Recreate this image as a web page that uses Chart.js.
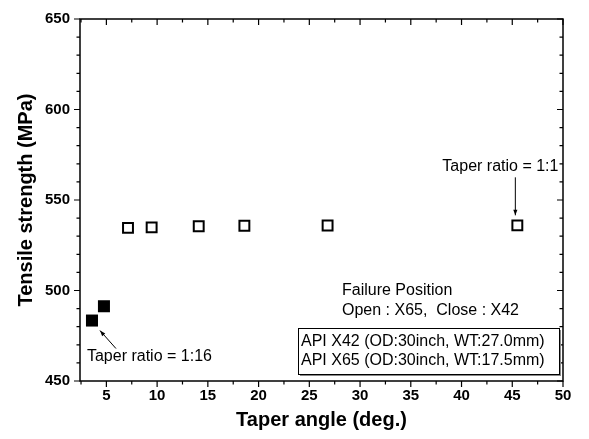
<!DOCTYPE html>
<html>
<head>
<meta charset="utf-8">
<script src="https://cdn.jsdelivr.net/npm/chart.js@4.4.1/dist/chart.umd.min.js"></script>
<style>
  html, body { margin: 0; padding: 0; background: #fff; }
  #wrap { width: 589px; height: 439px; }
</style>
</head>
<body>
<div id="wrap"><canvas id="chart" width="589" height="439"></canvas></div>
<script>
// taper angle (deg.) vs tensile strength (MPa)
const closeAngle = [3.58, 4.76]
const closeStrength = [483.4, 491.3]
const openAngle = [7.13, 9.46, 14.1, 18.6, 26.8, 45.5]
const openStrength = [534.6, 534.9, 535.5, 535.8, 535.9, 536.0]

const xTickLabels = [5, 10, 15, 20, 25, 30, 35, 40, 45, 50]
const yTickLabels = [450, 500, 550, 600, 650]

const FONT = 'Liberation Sans, Arial, sans-serif'

const toPoints = (xs, ys) => xs.map((x, i) => ({x, y: ys[i]}))

// frame, tick marks and the text notes
const notesPlugin = {
    id: 'notes',
    afterDraw(chart) {
        const {ctx, chartArea: a, scales: {x, y}} = chart
        ctx.save()
        ctx.strokeStyle = '#000'
        ctx.lineWidth = 1.5
        ctx.strokeRect(a.left, a.top, a.right - a.left, a.bottom - a.top)

        ctx.lineWidth = 1.2
        ctx.beginPath()
        x.ticks.forEach(t => {
            const px = x.getPixelForValue(t.value)
            const len = t.value % 5 === 0 ? 6 : 3.5
            ctx.moveTo(px, a.bottom); ctx.lineTo(px, a.bottom + len)
            ctx.moveTo(px, a.top); ctx.lineTo(px, a.top + len)
        })
        y.ticks.forEach(t => {
            const py = y.getPixelForValue(t.value)
            const len = t.value % 50 === 0 ? 6 : 3.5
            ctx.moveTo(a.left - len, py); ctx.lineTo(a.left, py)
            ctx.moveTo(a.right - len, py); ctx.lineTo(a.right, py)
        })
        ctx.stroke()

        ctx.fillStyle = '#000'
        ctx.font = '16px ' + FONT
        ctx.textBaseline = 'middle'
        ctx.textAlign = 'left'

        // 1:16 note under the first closed square
        const p16x = x.getPixelForValue(closeAngle[0])
        const p16y = y.getPixelForValue(closeStrength[0])
        ctx.fillText('Taper ratio = 1:16', p16x - 5, p16y + 36)
        arrow(ctx, p16x + 24, p16y + 28, p16x + 8, p16y + 10)

        // 1:1 note above the last open square
        const p1x = x.getPixelForValue(openAngle[openAngle.length - 1])
        const p1y = y.getPixelForValue(openStrength[openStrength.length - 1])
        ctx.fillText('Taper ratio = 1:1', p1x - 75, p1y - 59)
        arrow(ctx, p1x - 2, p1y - 48, p1x - 2, p1y - 10)

        ctx.fillText('Failure Position', 342, 291)
        ctx.fillText('Open : X65,  Close : X42', 342, 311)

        // material box with a small drop shadow
        const bx = 298, by = 328, bw = a.right - 4 - bx, bh = 46
        ctx.fillStyle = '#888'
        ctx.fillRect(bx + 2, by + 2, bw, bh)
        ctx.fillStyle = '#fff'
        ctx.fillRect(bx, by, bw, bh)
        ctx.lineWidth = 1
        ctx.strokeStyle = '#000'
        ctx.strokeRect(bx + 0.5, by + 0.5, bw, bh)
        ctx.fillStyle = '#000'
        ctx.fillText('API X42 (OD:30inch, WT:27.0mm)', bx + 3, by + 14)
        ctx.fillText('API X65 (OD:30inch, WT:17.5mm)', bx + 3, by + 33)
        ctx.restore()
    }
}

function arrow(ctx, x0, y0, x1, y1) {
    const ang = Math.atan2(y1 - y0, x1 - x0)
    const head = 6
    ctx.lineWidth = 1
    ctx.beginPath()
    ctx.moveTo(x0, y0)
    ctx.lineTo(x1, y1)
    ctx.stroke()
    ctx.beginPath()
    ctx.moveTo(x1, y1)
    ctx.lineTo(x1 - head * Math.cos(ang - 0.35), y1 - head * Math.sin(ang - 0.35))
    ctx.lineTo(x1 - head * Math.cos(ang + 0.35), y1 - head * Math.sin(ang + 0.35))
    ctx.closePath()
    ctx.fill()
}

const chart = new Chart(document.getElementById('chart'), {
    type: 'scatter',
    data: {
        datasets: [
            {
                label: 'Close',
                data: toPoints(closeAngle, closeStrength),
                pointStyle: 'rect',
                pointRadius: 8.5,
                backgroundColor: '#000',
                borderColor: '#000',
                borderWidth: 0
            },
            {
                label: 'Open',
                data: toPoints(openAngle, openStrength),
                pointStyle: 'rect',
                pointRadius: 7,
                backgroundColor: '#fff',
                borderColor: '#000',
                borderWidth: 2
            }
        ]
    },
    options: {
        responsive: false,
        animation: false,
        layout: {
            padding: {top: 16, right: 26, left: 0, bottom: 0}
        },
        plugins: {
            legend: {display: false},
            tooltip: {enabled: false}
        },
        scales: {
            x: {
                type: 'linear',
                min: 2.4,
                max: 50,
                grid: {display: false, drawTicks: false},
                border: {display: false},
                ticks: {
                    stepSize: 2.5,
                    includeBounds: false,
                    autoSkip: false,
                    maxRotation: 0,
                    padding: 6,
                    color: '#000',
                    font: {family: FONT, size: 15, weight: 'bold'},
                    callback: v => xTickLabels.includes(v) ? String(v) : ''
                },
                title: {
                    display: true,
                    text: 'Taper angle (deg.)',
                    color: '#000',
                    font: {family: FONT, size: 20, weight: 'bold'},
                    padding: {top: 0, bottom: 7}
                },
                afterFit: s => { s.height = 58 }
            },
            y: {
                min: 450,
                max: 650,
                grid: {display: false, drawTicks: false},
                border: {display: false},
                ticks: {
                    stepSize: 10,
                    autoSkip: false,
                    padding: 10,
                    color: '#000',
                    font: {family: FONT, size: 15, weight: 'bold'},
                    callback: v => yTickLabels.includes(v) ? String(v) : ''
                },
                title: {
                    display: true,
                    text: 'Tensile strength (MPa)',
                    color: '#000',
                    font: {family: FONT, size: 20, weight: 'bold'},
                    padding: {top: 14, bottom: 0}
                },
                afterFit: s => { s.width = 80 }
            }
        }
    },
    plugins: [notesPlugin]
})
</script>
</body>
</html>
